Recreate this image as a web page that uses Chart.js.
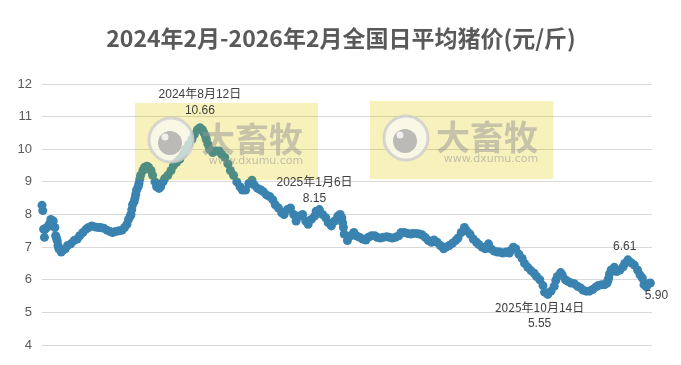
<!DOCTYPE html>
<html><head><meta charset="utf-8">
<script src="https://cdn.jsdelivr.net/npm/chart.js@4"></script>
<style>html,body{margin:0;padding:0;background:#fff}#w{width:681px;height:365px;position:relative}</style>
</head><body><div id="w"><canvas id="c"></canvas></div>
<script>
const titleText = '2024年2月-2026年2月全国日平均猪价(元/斤)';
// day offset from start of series (≈2024-01-29)
const days = [0,1,2,3,4,6,9,11,14,16,17,18,19,20,21,24,26,29,32,36,40,44,47,51,55,58,62,66,70,73,77,81,85,88,92,96,100,103,106,108,110,111,112,113,115,116,117,118,120,121,122,123,126,128,131,133,136,138,141,143,146,148,151,153,157,161,164,168,172,176,179,183,187,190,194,197,200,202,204,205,207,209,213,217,221,224,228,232,235,239,243,247,250,254,258,262,265,269,273,276,280,284,288,291,295,299,302,306,310,314,317,321,325,329,332,336,340,342,346,350,354,357,361,365,369,372,374,375,376,377,381,385,389,392,396,400,404,407,411,415,418,422,426,430,433,437,441,445,448,452,456,460,463,467,471,474,478,482,486,489,493,497,501,504,508,512,516,519,523,527,530,534,538,542,545,549,553,557,560,564,568,571,575,579,583,585,588,591,595,599,602,606,610,614,617,621,625,627,631,635,639,641,643,647,649,653,656,660,664,668,672,675,679,683,687,691,694,698,702,705,706,707,708,710,714,717,721,725,727,731,735,739,743,746,749,751,754,756,759];
const prices = [8.28,8.12,7.55,7.3,7.55,7.6,7.7,7.85,7.8,7.6,7.35,7.28,7.2,7.05,6.95,6.85,6.9,6.95,7.05,7.1,7.2,7.25,7.35,7.45,7.55,7.6,7.65,7.62,7.6,7.6,7.58,7.52,7.48,7.45,7.48,7.5,7.52,7.6,7.7,7.85,7.95,8.0,8.15,8.3,8.4,8.5,8.62,8.75,8.85,8.95,9.08,9.2,9.35,9.45,9.48,9.45,9.35,9.2,9.0,8.85,8.8,8.85,9.0,9.1,9.2,9.35,9.5,9.6,9.7,9.85,10.0,10.15,10.3,10.45,10.6,10.66,10.6,10.5,10.4,10.3,10.15,10.0,9.9,9.95,9.95,9.85,9.75,9.55,9.35,9.2,9.0,8.85,8.75,8.75,8.95,9.05,8.9,8.8,8.75,8.7,8.6,8.55,8.45,8.3,8.2,8.05,8.0,8.15,8.2,8.0,7.8,7.95,8.0,7.8,7.7,7.85,7.95,8.1,8.15,8.0,7.9,7.75,7.65,7.8,7.95,8.0,7.9,7.75,7.6,7.4,7.2,7.35,7.45,7.35,7.3,7.25,7.22,7.3,7.35,7.35,7.3,7.28,7.3,7.32,7.3,7.28,7.3,7.35,7.45,7.45,7.42,7.4,7.42,7.42,7.4,7.38,7.3,7.2,7.15,7.22,7.15,7.05,6.95,7.0,7.05,7.12,7.2,7.28,7.45,7.6,7.5,7.4,7.25,7.15,7.08,7.0,6.95,7.1,6.95,6.88,6.85,6.85,6.82,6.85,6.82,6.9,7.0,6.95,6.78,6.65,6.5,6.38,6.28,6.2,6.1,6.0,5.82,5.62,5.55,5.65,5.8,5.98,6.1,6.22,6.15,6.0,5.95,5.9,5.88,5.8,5.75,5.68,5.65,5.65,5.7,5.78,5.82,5.85,5.85,5.9,5.98,6.05,6.18,6.3,6.38,6.25,6.3,6.4,6.5,6.61,6.52,6.45,6.3,6.15,6.05,5.85,5.78,5.88,5.9,5.9];
const yTicks = [4,5,6,7,8,9,10,11,12];
// annotations: [day, date text, value text, position]
const annDays = [197, 340, 627, 727, 759];
const annDate = ['2024年8月12日', '2025年1月6日', '2025年10月14日', '', ''];
const annVal = ['10.66', '8.15', '5.55', '6.61', '5.90'];
const annPos = ['above', 'above', 'below', 'above', 'below'];

const points = days.map((d, i) => ({x: d, y: prices[i]}));

const titlePlugin = {
  id: 'titleP',
  beforeDraw(chart) {
    const ctx = chart.ctx;
    ctx.save();
    ctx.fillStyle = '#595959';
    ctx.font = 'bold 23px "Noto Sans CJK SC", sans-serif';
    ctx.textAlign = 'center'; ctx.textBaseline = 'middle';
    ctx.fillText(titleText, 341, 38);
    ctx.restore();
  }
};

function drawWM(ctx, x, y, w, h) {
  ctx.save();
  ctx.globalCompositeOperation = 'multiply';
  ctx.fillStyle = 'rgb(246,239,188)';
  ctx.fillRect(x, y, w, h);
  ctx.globalCompositeOperation = 'screen';
  ctx.fillStyle = 'rgb(30,35,0)';
  ctx.fillRect(x, y, w, h);
  ctx.globalCompositeOperation = 'source-over';
  const cx = x + 36, cy = y + 37;
  ctx.beginPath(); ctx.arc(cx, cy, 22, 0, Math.PI * 2);
  ctx.fillStyle = 'rgba(250,250,248,0.7)'; ctx.fill();
  ctx.lineWidth = 3; ctx.strokeStyle = 'rgba(205,205,205,0.8)'; ctx.stroke();
  ctx.beginPath(); ctx.arc(cx - 1, cy + 3, 12, 0, Math.PI * 2);
  ctx.fillStyle = 'rgba(165,165,165,0.75)'; ctx.fill();
  ctx.beginPath(); ctx.arc(cx - 6, cy - 3, 3.5, 0, Math.PI * 2);
  ctx.fillStyle = 'rgba(245,245,245,0.9)'; ctx.fill();
  ctx.fillStyle = 'rgba(150,150,150,0.5)';
  ctx.font = 'bold 34px "Noto Sans CJK SC", sans-serif';
  ctx.textAlign = 'center'; ctx.textBaseline = 'middle';
  ctx.fillText('大畜牧', x + 117, y + 36);
  ctx.fillStyle = 'rgba(150,150,150,0.55)';
  ctx.font = '11px "DejaVu Sans", sans-serif';
  ctx.fillText('www.dxumu.com', x + 121, y + 58);
  ctx.restore();
}

const wmPlugin = {
  id: 'wm',
  afterDatasetsDraw(chart) {
    const ctx = chart.ctx;
    drawWM(ctx, 135, 103, 183, 77);
    drawWM(ctx, 370, 101, 183, 78);
  }
};

const annPlugin = {
  id: 'ann',
  afterDraw(chart) {
    const ctx = chart.ctx, xs = chart.scales.x, ys = chart.scales.y;
    ctx.save();
    ctx.fillStyle = '#404040';
    ctx.font = '12px "Liberation Sans", "Noto Sans CJK SC", sans-serif';
    ctx.textAlign = 'center'; ctx.textBaseline = 'middle';
    annDays.forEach((d, i) => {
      const idx = days.indexOf(d);
      const px = xs.getPixelForValue(d), py = ys.getPixelForValue(prices[idx]);
      if (annPos[i] === 'above') {
        if (annDate[i]) {
          ctx.fillText(annDate[i], px, py - 33);
          ctx.fillText(annVal[i], px, py - 17);
        } else ctx.fillText(annVal[i], px, py - 17);
      } else {
        if (annDate[i]) {
          ctx.font = '12px "Noto Sans CJK SC", sans-serif';
          ctx.fillText(annDate[i], px - 5, py + 15);
          ctx.font = '12px "Liberation Sans", sans-serif';
          ctx.fillText(annVal[i], px - 5, py + 32);
        } else ctx.fillText(annVal[i], px + 6, py + 13);
      }
    });
    ctx.restore();
  }
};

new Chart(document.getElementById('c'), {
  type: 'scatter',
  data: { datasets: [{
    data: points,
    showLine: false,
    pointRadius: 4.5,
    pointHoverRadius: 4.5,
    pointBorderWidth: 0,
    backgroundColor: '#3a83b0',
    borderColor: '#3a83b0',
    clip: false
  }]},
  options: {
    responsive: true, maintainAspectRatio: false, animation: false,
    layout: { padding: { top: 84, bottom: 20, left: 0, right: 29 } },
    plugins: { legend: { display: false }, title: { display: false }, tooltip: { enabled: false } },
    scales: {
      x: { type: 'linear', min: 0, max: 761, display: false },
      y: {
        min: 4, max: 12,
        afterBuildTicks(axis) { axis.ticks = yTicks.map(v => ({value: v})); },
        afterFit(axis) { axis.width = 42; },
        border: { display: false },
        grid: { color: '#d9d9d9', drawTicks: false, lineWidth: 1 },
        ticks: { color: '#595959', padding: 10, font: { size: 13, family: '"Liberation Sans", sans-serif' } }
      }
    }
  },
  plugins: [titlePlugin, wmPlugin, annPlugin]
});
</script></body></html>
